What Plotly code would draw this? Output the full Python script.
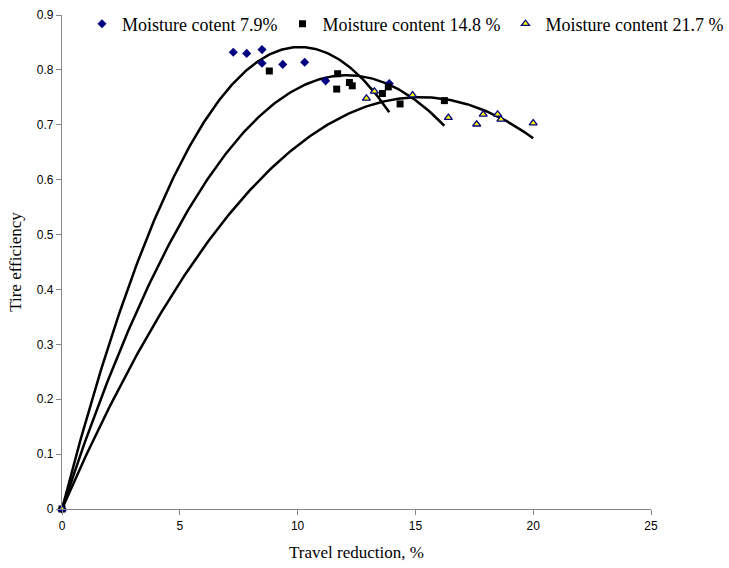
import numpy as np
import plotly.graph_objects as go

# Moisture content 7.9%
x1 = [0, 7.27, 7.84, 8.49, 8.49, 9.37, 10.30, 11.19, 13.89]
y1 = [0, 0.832, 0.830, 0.837, 0.812, 0.810, 0.814, 0.780, 0.775]
# Moisture content 14.8 %
x2 = [0, 8.80, 11.70, 11.66, 12.20, 12.32, 13.60, 13.85, 14.35, 16.23]
y2 = [0, 0.798, 0.793, 0.765, 0.777, 0.771, 0.757, 0.769, 0.738, 0.744]
# Moisture content 21.7 %
x3 = [0, 12.92, 13.26, 14.88, 16.40, 17.60, 17.88, 18.49, 18.63, 20.00]
y3 = [0, 0.748, 0.761, 0.754, 0.713, 0.701, 0.719, 0.719, 0.710, 0.703]

names = ["Moisture cotent 7.9%", "Moisture content 14.8 %", "Moisture content 21.7 %"]

# polynomial trendline coefficients (y = a*x + b*x^2)
trend_a = [0.1667, 0.1306, 0.0987]
trend_b = [-0.008254, -0.005396, -0.003246]

W, H = 729, 568
PL, PR, PT, PB = 62, 651, 15, 509  # plot-area pixel box

fig = go.Figure()

for xs, a, b in zip([x1, x2, x3], trend_a, trend_b):
    xx = np.linspace(0, max(xs), 200)
    fig.add_trace(go.Scatter(x=xx, y=a * xx + b * xx ** 2, mode="lines",
                             line=dict(color="black", width=2.5),
                             showlegend=False, hoverinfo="skip"))

fig.add_trace(go.Scatter(x=x1, y=y1, mode="markers", name=names[0],
                         marker=dict(symbol="diamond", size=7, color="#000080",
                                     line=dict(width=0)), cliponaxis=False))
fig.add_trace(go.Scatter(x=x2, y=y2, mode="markers", name=names[1],
                         marker=dict(symbol="square", size=7, color="black",
                                     line=dict(width=0)), cliponaxis=False))
fig.add_trace(go.Scatter(x=x3, y=y3, mode="markers", name=names[2],
                         marker=dict(symbol="triangle-up", size=7, color="#FFFF00",
                                     line=dict(width=1.3, color="#000080")), cliponaxis=False))

axis_common = dict(showgrid=False, zeroline=False, showline=True, linecolor="#868686",
                   linewidth=1.2, ticks="outside", ticklen=5, tickcolor="#868686",
                   automargin=False,
                   tickfont=dict(family="Liberation Sans, Arial", size=12, color="black"))

serif = "Liberation Serif, Times New Roman, serif"

fig.update_layout(
    width=W, height=H,
    margin=dict(l=0, r=0, t=0, b=0, autoexpand=False),
    paper_bgcolor="white", plot_bgcolor="rgba(0,0,0,0)",
    xaxis=dict(range=[0, 25], dtick=5, tick0=0, domain=[PL / W, PR / W],
               title=dict(text="Travel reduction, %", standoff=14,
                          font=dict(family=serif, size=17, color="black")),
               **axis_common),
    yaxis=dict(range=[0, 0.9], dtick=0.1, tick0=0, domain=[1 - PB / H, 1 - PT / H],
               title=dict(text="Tire efficiency", standoff=10,
                          font=dict(family=serif, size=17, color="black")),
               **axis_common),
    legend=dict(orientation="h", x=82 / W, xanchor="left", y=1 - 24 / H, yanchor="middle",
                bgcolor="rgba(0,0,0,0)", itemwidth=30,
                font=dict(family=serif, size=18, color="black")),
)

fig.write_html("out.html")
